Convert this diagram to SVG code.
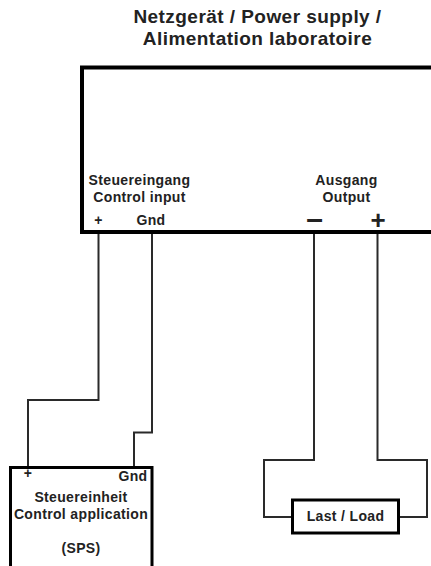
<svg xmlns="http://www.w3.org/2000/svg" width="431" height="566" viewBox="0 0 431 566">
<style>
text{font-family:"Liberation Sans",Arial,sans-serif;font-weight:bold;fill:#222;text-anchor:middle}
.t{font-size:19px;letter-spacing:.45px}.s{font-size:14px;letter-spacing:.35px}
.w{fill:none;stroke:#2a2a2a;stroke-width:2}
.b{fill:#fff;stroke:#000}
</style>
<rect width="431" height="566" fill="#fff"/>
<g id="connectors">
<path class="w" d="M98.500 233V400H28V468"/>
<path class="w" d="M152 233V432.500H134V468"/>
<path class="w" d="M314 233V460H264V517H293"/>
<path class="w" d="M377.500 233V460H427V517H398"/>
</g>
<g id="title"><text class="t" x="257.500" y="23">Netzgerät / Power supply /</text><text class="t" x="257.500" y="45">Alimentation laboratoire</text></g>
<g id="power-supply">
<path class="b" stroke-width="4" d="M431 67.500H82V232H431"/>
<text class="s" x="139.500" y="185">Steuereingang</text><text class="s" x="139.500" y="202">Control input</text>
<text class="s" x="98.500" y="225">+</text><text class="s" x="151" y="225">Gnd</text>
<text class="s" x="346.500" y="185">Ausgang</text><text class="s" x="346.500" y="202">Output</text>
<text x="314.500" y="228.500" style="font-size:30px">–</text><text x="378" y="229" style="font-size:26px">+</text>
</g>
<g id="control-unit">
<path class="b" stroke-width="3" d="M10.500 566V467.500H152V566"/>
<text class="s" x="28" y="478">+</text><text class="s" x="133" y="481">Gnd</text>
<text class="s" x="81" y="502">Steuereinheit</text><text class="s" x="81" y="519">Control application</text><text class="s" x="81" y="553">(SPS)</text>
</g>
<g id="load">
<rect class="b" stroke-width="3" x="292.500" y="500" width="106" height="33"/>
<text class="s" x="345.500" y="521">Last / Load</text>
</g>
</svg>
